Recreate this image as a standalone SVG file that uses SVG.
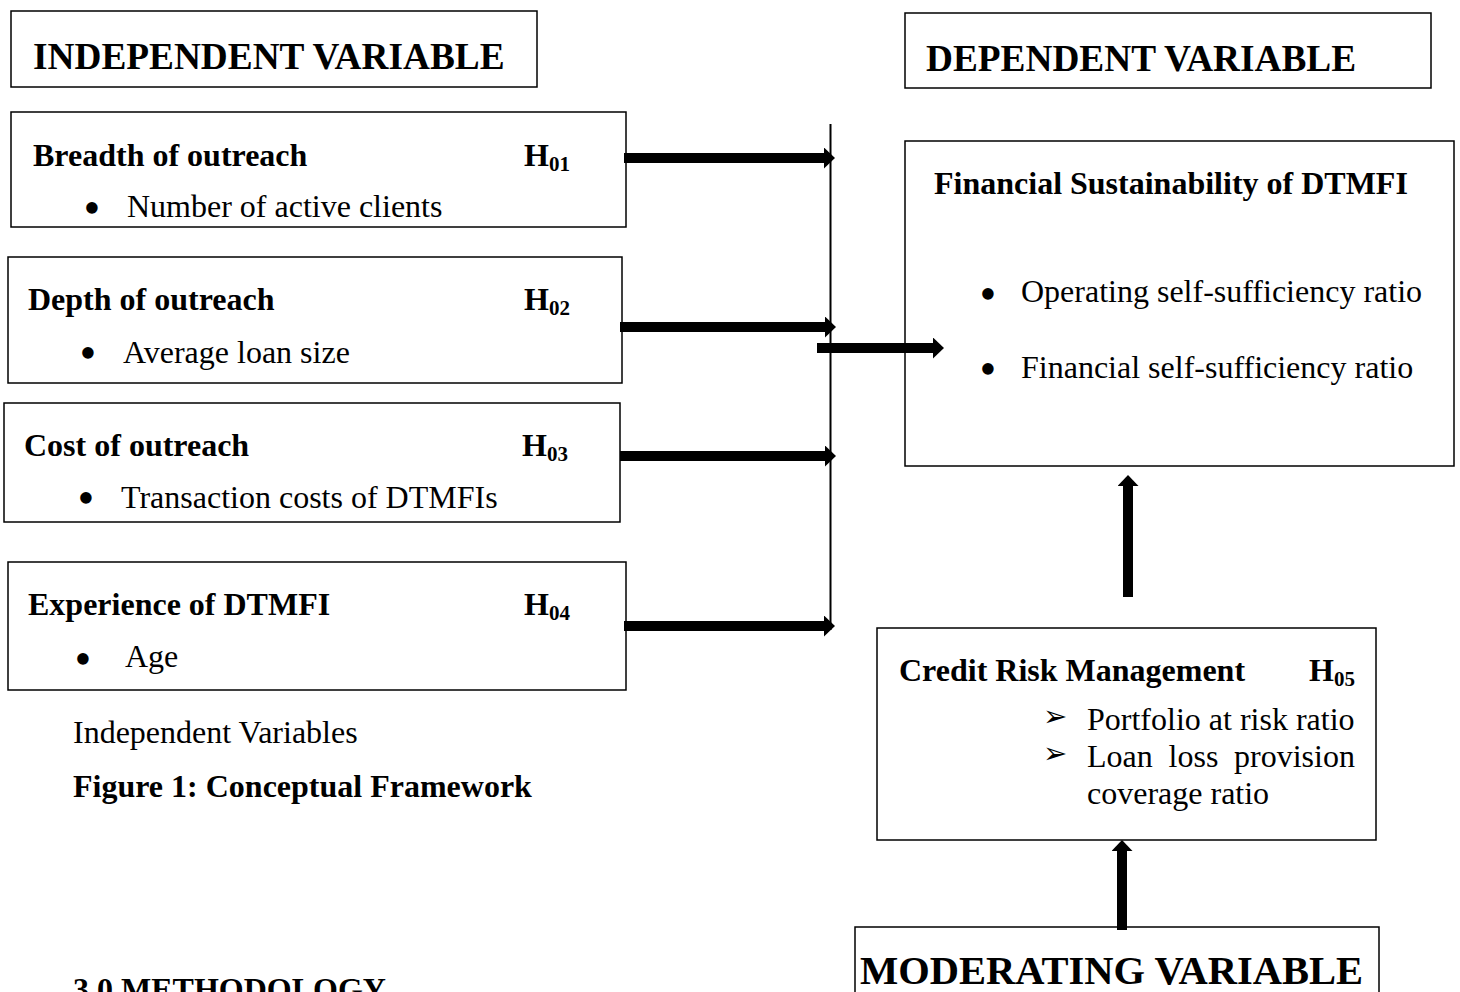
<svg xmlns="http://www.w3.org/2000/svg" width="1460" height="992" viewBox="0 0 1460 992">
<defs>
<style>
.box{fill:#fff;stroke:#000;stroke-width:1.5}
.t{font-family:"Liberation Serif","Times New Roman",serif;font-size:32px;fill:#000}
.b{font-weight:bold}
.hd{font-family:"Liberation Serif","Times New Roman",serif;font-size:37.3px;font-weight:bold;fill:#000}
.sub{font-size:21px}
.bul{font-family:"Liberation Serif","Times New Roman",serif;font-size:48px;fill:#000}
.arr{stroke:#000;stroke-width:10;fill:none}
.vl{stroke:#000;stroke-width:2;fill:none}
.sym{font-family:"DejaVu Sans",sans-serif;font-size:29px;fill:#000}
</style>
<marker id="ah" markerUnits="userSpaceOnUse" markerWidth="12" markerHeight="22" refX="0" refY="10.5" orient="auto">
<path d="M0,0 L11,10.5 L0,21 z" fill="#000"/>
</marker>
</defs>
<rect width="1460" height="992" fill="#fff"/>

<g id="hdr-independent">
<rect class="box" x="11" y="11" width="526" height="76"/>
<text class="hd" x="33" y="69">INDEPENDENT VARIABLE</text>
</g>
<g id="hdr-dependent">
<rect class="box" x="905" y="13" width="526" height="75"/>
<text class="hd" x="926" y="71">DEPENDENT VARIABLE</text>
</g>

<g id="breadth">
<rect class="box" x="11" y="112" width="615" height="115"/>
<text class="t b" x="33" y="166">Breadth of outreach</text>
<text class="t b" x="524" y="166">H<tspan class="sub" dy="5">01</tspan></text>
<text class="bul" x="83.6" y="224">•</text>
<text class="t" x="127" y="217">Number of active clients</text>
</g>
<g id="depth">
<rect class="box" x="8" y="257" width="614" height="126"/>
<text class="t b" x="28" y="310">Depth of outreach</text>
<text class="t b" x="524" y="310">H<tspan class="sub" dy="5">02</tspan></text>
<text class="bul" x="79.6" y="369">•</text>
<text class="t" x="123" y="363">Average loan size</text>
</g>
<g id="cost">
<rect class="box" x="4" y="403" width="616" height="119"/>
<text class="t b" x="24" y="456">Cost of outreach</text>
<text class="t b" x="522" y="456">H<tspan class="sub" dy="5">03</tspan></text>
<text class="bul" x="77.6" y="514">•</text>
<text class="t" x="121" y="508">Transaction costs of DTMFIs</text>
</g>
<g id="experience">
<rect class="box" x="8" y="562" width="618" height="128"/>
<text class="t b" x="28" y="615">Experience of DTMFI</text>
<text class="t b" x="524" y="615">H<tspan class="sub" dy="5">04</tspan></text>
<text class="bul" x="74.6" y="675">•</text>
<text class="t" x="125" y="667">Age</text>
</g>

<g id="financial">
<rect class="box" x="905" y="141" width="549" height="325"/>
<text class="t b" x="934" y="194">Financial Sustainability of DTMFI</text>
<text class="bul" x="979.6" y="310">•</text>
<text class="t" x="1021" y="302">Operating self-sufficiency ratio</text>
<text class="bul" x="979.6" y="385">•</text>
<text class="t" x="1021" y="378">Financial self-sufficiency ratio</text>
</g>

<g id="credit">
<rect class="box" x="877" y="628" width="499" height="212"/>
<text class="t b" x="899" y="681">Credit Risk Management</text>
<text class="t b" x="1309" y="681">H<tspan class="sub" dy="5">05</tspan></text>
<text class="sym" x="1043" y="726">➢</text>
<text class="t" x="1087" y="730">Portfolio at risk ratio</text>
<text class="sym" x="1043" y="763">➢</text>
<text class="t" y="767"><tspan x="1087">Loan</tspan><tspan x="1168.6">loss</tspan><tspan x="1234">provision</tspan></text>
<text class="t" x="1087" y="804">coverage ratio</text>
</g>

<g id="moderating">
<rect class="box" x="855" y="927" width="524" height="80"/>
<text class="hd" x="860" y="984" style="font-size:40.5px">MODERATING VARIABLE</text>
</g>

<g id="captions">
<text class="t" x="73" y="743">Independent Variables</text>
<text class="t b" x="73" y="797">Figure 1: Conceptual Framework</text>
<text class="t b" x="73" y="1000">3.0 METHODOLOGY</text>
</g>

<g id="connectors">
<line class="vl" x1="830.5" y1="124" x2="830.5" y2="630"/>
<line class="arr" x1="624" y1="158" x2="824" y2="158" marker-end="url(#ah)"/>
<line class="arr" x1="620" y1="327" x2="825" y2="327" marker-end="url(#ah)"/>
<line class="arr" x1="620" y1="456" x2="825" y2="456" marker-end="url(#ah)"/>
<line class="arr" x1="624" y1="626" x2="824" y2="626" marker-end="url(#ah)"/>
<line class="arr" x1="817" y1="348" x2="933" y2="348" marker-end="url(#ah)"/>
<line class="arr" x1="1128" y1="597" x2="1128" y2="486" marker-end="url(#ah)"/>
<line class="arr" x1="1122" y1="930" x2="1122" y2="851" marker-end="url(#ah)"/>
</g>
</svg>
